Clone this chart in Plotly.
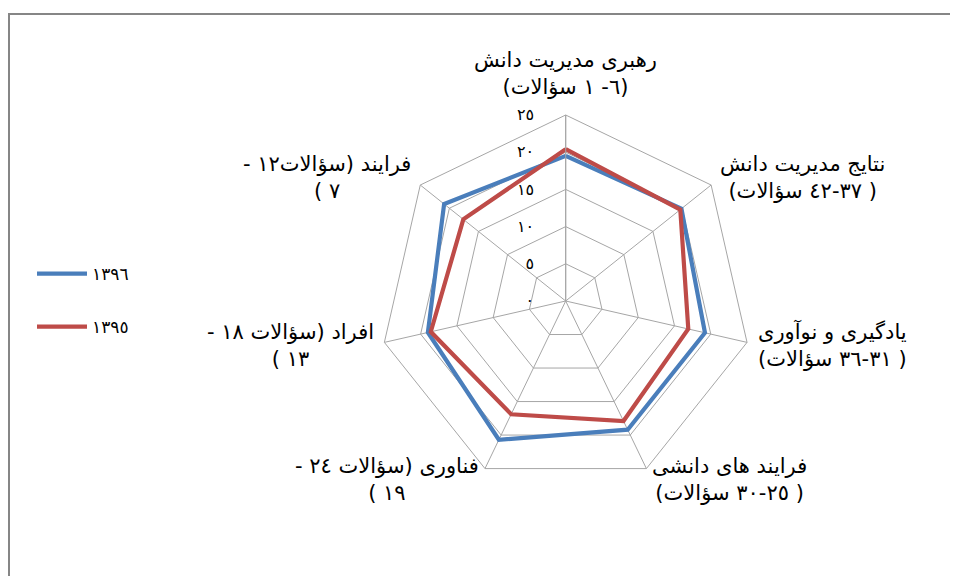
import math
import plotly.graph_objects as go

LRM = "\u200e"
RLM = "\u200f"
NBSP = "\u00a0"

# Category labels: first line (right-to-left text) and second line tokens (in visual order)
cat_line1 = [
    "رهبری مدیریت دانش",
    "نتایج مدیریت دانش",
    "یادگیری و نوآوری",
    "فرایند های دانشی",
    "فناوری (سؤالات ٢٤ -",
    "افراد (سؤالات ١٨ -",
    "فرایند (سؤالات١٢ -",
]
cat_line2 = [
    ["(", "سؤالات", " ١ -", "٦", ")"],
    ["(", "سؤالات", " ٤٢", "-", "٣٧", " )"],
    ["(", "سؤالات", " ٣٦", "-", "٣١", " )"],
    ["(", "سؤالات", " ٣٠", "-", "٢٥", " )"],
    ["(", " ١٩"],
    ["(", " ١٣"],
    ["(", " ٧"],
]

series_names = ["١٣٩٦", "١٣٩٥"]
values_1396 = [19.5, 19.9, 19.2, 19.2, 20.7, 19.0, 20.9]
values_1395 = [20.4, 19.7, 16.9, 17.9, 16.9, 18.6, 17.6]
colors = ["#4a7ebb", "#be4b48"]

radial_ticks = [0, 5, 10, 15, 20, 25]
radial_ticktext = ["٠", "٥", "١٠", "١٥", "٢٠", "٢٥"]


def vis(tokens):
    return LRM + LRM.join(tokens) + LRM


categories = [a + RLM + "<br>" + vis(b) for a, b in zip(cat_line1, cat_line2)]

# page geometry: the page body adds an 8px margin, so the figure is sized to fit the window
OFF = 8
W, H = 958 - 2 * OFF, 584 - 2 * OFF
CX, CY, R = 565.7, 301.0, 186.0


def px(x):
    return (x - OFF) / W


def py(y):
    return 1 - (y - OFF) / H


fig = go.Figure()
for name, vals, col in zip(series_names, [values_1396, values_1395], colors):
    fig.add_trace(go.Scatterpolar(
        r=vals + vals[:1],
        theta=categories + categories[:1],
        mode="lines",
        name=name,
        legendgroup=name,
        line=dict(color=col, width=4.2),
    ))

# category labels placed just outside each spoke end
annotations = []
n = len(categories)
for i, lab in enumerate(categories):
    th = math.radians(i * 360 / n)
    vx = CX + R * math.sin(th)
    vy = CY - R * math.cos(th)
    if i == 0:
        ax, ay, xa, ya = vx, vy - 14, "center", "bottom"
    else:
        ax = vx + 9 * math.sin(th)
        ay = vy - 12 * math.cos(th)
        xa = "left" if math.sin(th) > 0 else "right"
        ya = "middle"
    annotations.append(dict(
        text=lab, x=px(ax), y=py(ay), xref="paper", yref="paper",
        xanchor=xa, yanchor=ya, align="center", showarrow=False,
        font=dict(size=21, color="#000000"),
    ))

grid_col = "#a6a6a6"
fig.update_layout(
    width=W, height=H,
    margin=dict(l=0, r=0, t=0, b=0),
    paper_bgcolor="white",
    plot_bgcolor="white",
    font=dict(family="DejaVu Sans, Liberation Sans, Arial", size=15, color="#000000"),
    polar=dict(
        domain=dict(x=[px(CX - R), px(CX + R)], y=[py(CY + R), py(CY - R)]),
        bgcolor="white",
        gridshape="linear",
        angularaxis=dict(
            rotation=90,
            direction="clockwise",
            gridcolor=grid_col,
            linecolor=grid_col,
            linewidth=1,
            showline=True,
            ticks="",
            showticklabels=False,
        ),
        radialaxis=dict(
            range=[0, 25],
            angle=90,
            tickangle=90,
            side="counterclockwise",
            tickvals=radial_ticks,
            ticktext=[t + NBSP * 5 for t in radial_ticktext],
            gridcolor=grid_col,
            linecolor=grid_col,
            showline=True,
            ticks="",
            tickfont=dict(size=16),
        ),
    ),
    annotations=annotations,
    legend=dict(
        x=px(32), y=py(256),
        xanchor="left", yanchor="top",
        font=dict(size=17),
        itemwidth=50,
        tracegroupgap=28,
        bgcolor="rgba(0,0,0,0)",
    ),
    shapes=[dict(
        type="rect", xref="paper", yref="paper",
        x0=1 / W, x1=1.1, y0=-0.1, y1=py(14),
        line=dict(color="#868686", width=2),
        fillcolor="rgba(0,0,0,0)",
    )],
)

fig.write_html("out.html")
